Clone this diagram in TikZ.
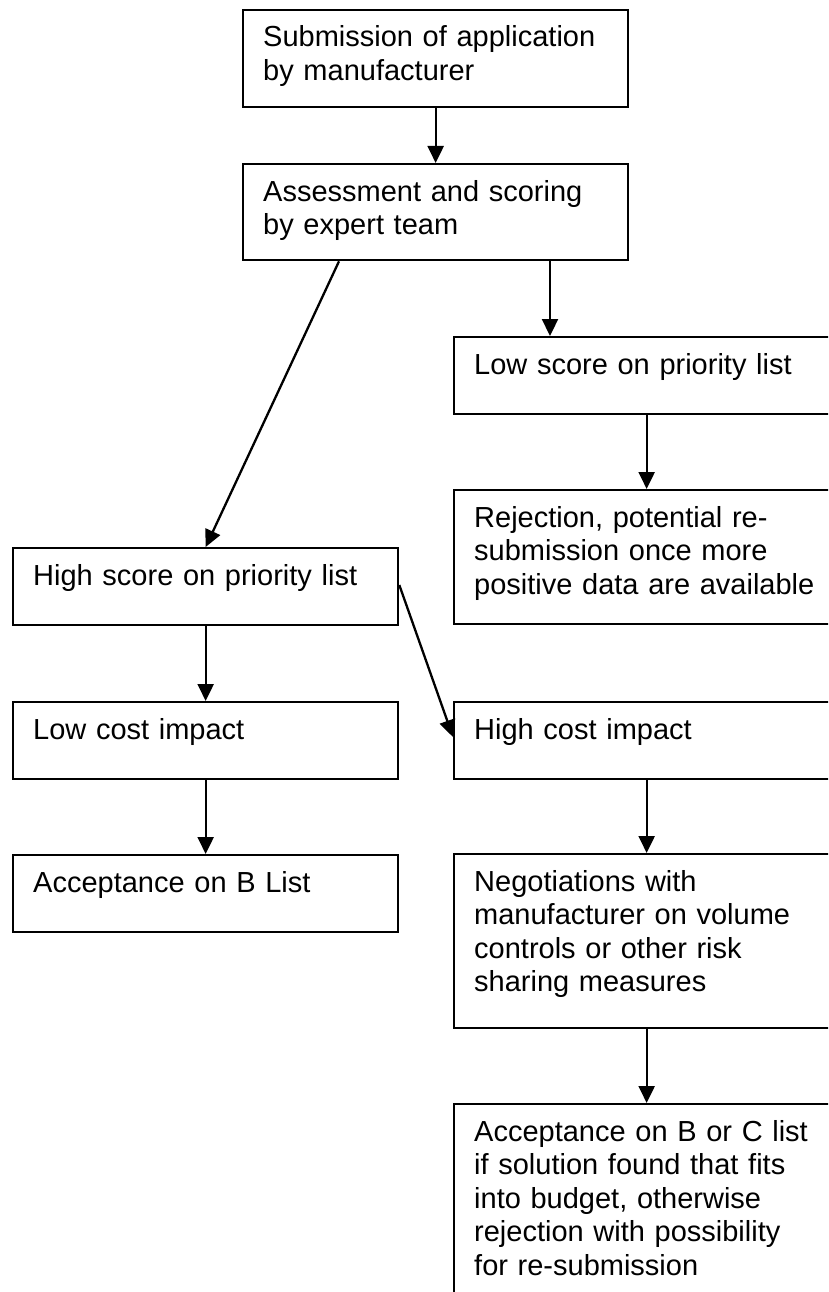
\documentclass[tikz,border=0pt]{standalone}
\usepackage{fontspec}
\setmainfont{Liberation Sans}
\usetikzlibrary{arrows.meta}
\begin{document}
\begin{tikzpicture}[x=1pt,y=-1pt,
  box/.style={draw=black, line width=2.3pt, rectangle, minimum width=385pt, inner sep=0pt, anchor=north west},
  txt/.style={anchor=base west, inner sep=0pt, text width=375pt, align=left, font=\fontsize{29}{33.5}\selectfont},
  arr/.style={draw=black, line width=2.3pt, -{Triangle[length=17pt,width=16pt]}}]
\useasboundingbox (0,0) rectangle (828,1292);
\clip (0,0) rectangle (828,1292);
\fill[white] (0,0) rectangle (828,1292);
% boxes
\node[box, minimum height=97pt] (b1) at (242,9) {};
\node[box, minimum height=96pt] (b2) at (242,163) {};
\node[box, minimum height=77pt] (b3) at (453,336) {};
\node[box, minimum height=134pt] (b4) at (453,489) {};
\node[box, minimum height=77pt] (b5) at (12,547) {};
\node[box, minimum height=77pt] (b6) at (12,701) {};
\node[box, minimum height=77pt] (b7) at (12,854) {};
\node[box, minimum height=77pt] (b8) at (453,701) {};
\node[box, minimum height=174pt] (b9) at (453,853) {};
\node[box, minimum height=300pt] (b10) at (453,1103) {};
% texts
\node[txt] (t1) at ([shift={(21,38)}]b1.north west) {Submission of application\\by manufacturer};
\node[txt] (t2) at ([shift={(21,38)}]b2.north west) {Assessment and scoring\\by expert team};
\node[txt] (t3) at ([shift={(21,38)}]b3.north west) {Low score on priority list};
\node[txt] (t4) at ([shift={(21,38)}]b4.north west) {Rejection, potential re-\\submission once more\\positive data are available};
\node[txt] (t5) at ([shift={(21,38)}]b5.north west) {High score on priority list};
\node[txt] (t6) at ([shift={(21,38)}]b6.north west) {Low cost impact};
\node[txt] (t7) at ([shift={(21,38)}]b7.north west) {Acceptance on B List};
\node[txt] (t8) at ([shift={(21,38)}]b8.north west) {High cost impact};
\node[txt] (t9) at ([shift={(21,38)}]b9.north west) {Negotiations with\\manufacturer on volume\\controls or other risk\\sharing measures};
\node[txt] (t10) at ([shift={(21,38)}]b10.north west) {Acceptance on B or C list\\if solution found that fits\\into budget, otherwise\\rejection with possibility\\for re-submission};
% helper coordinates
\coordinate (c23) at (550,0);
\coordinate (c25) at (339,0);
\coordinate (c58a) at (0,585);
\coordinate (c58b) at (0,737);
% connectors
\draw[arr] (b1.south) -- (b2.north);
\draw[arr] (b2.south -| c23) -- (b3.north -| c23);
\draw[arr] (b3.south) -- (b4.north);
\draw[arr] (b2.south -| c25) -- (b5.north);
\draw[arr] (b5.south) -- (b6.north);
\draw[arr] (b6.south) -- (b7.north);
\draw[arr] (b5.east |- c58a) -- (b8.west |- c58b);
\draw[arr] (b8.south) -- (b9.north);
\draw[arr] (b9.south) -- (b10.north);
\end{tikzpicture}
\end{document}
